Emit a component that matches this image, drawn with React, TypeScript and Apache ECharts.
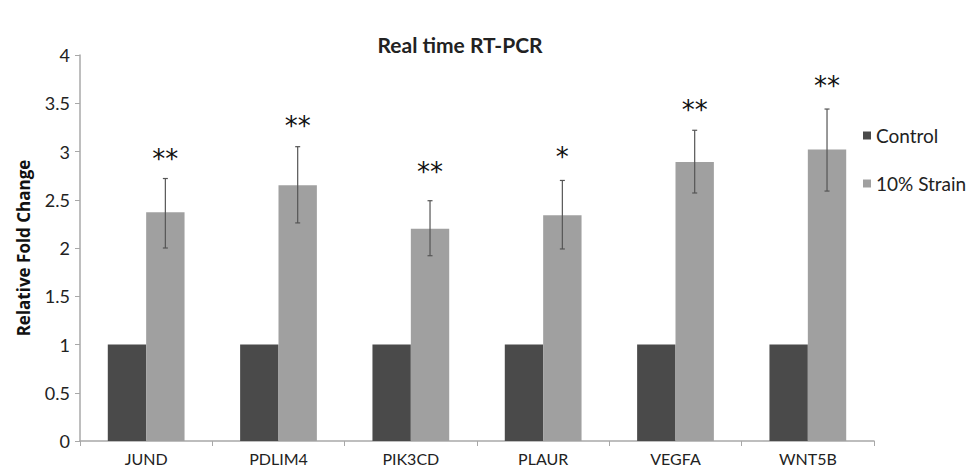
import React, { useEffect, useRef } from "react";
import * as echarts from "echarts";

const categories = ["JUND", "PDLIM4", "PIK3CD", "PLAUR", "VEGFA", "WNT5B"];
const controlValues = [1, 1, 1, 1, 1, 1];
const strainValues = [2.37, 2.65, 2.2, 2.34, 2.89, 3.02];
const strainErrLow = [2.0, 2.26, 1.92, 1.99, 2.57, 2.59];
const strainErrHigh = [2.72, 3.05, 2.49, 2.7, 3.22, 3.44];
const starLabels = ["**", "**", "**", "*", "**", "**"];
const starY = [2.96, 3.31, 2.83, 2.98, 3.47, 3.72];
const yTicks = [0, 0.5, 1, 1.5, 2, 2.5, 3, 3.5, 4];

const FONT = "Lato, 'Open Sans', sans-serif";
const CAT_GAP = 0.42;

export default function App() {
  const ref = useRef<HTMLDivElement>(null);
  useEffect(() => {
    if (!ref.current) return;
    const chart = echarts.init(ref.current, null, { renderer: "svg" });
    const errData = categories.map((_, i) => [i, strainErrLow[i], strainErrHigh[i]]);
    const starData = categories.map((_, i) => [i, starY[i], starLabels[i]]);
    chart.setOption({
      animation: false,
      backgroundColor: "#ffffff",
      title: {
        text: "Real time RT-PCR",
        left: 455,
        top: 29,
        textAlign: "center",
        textStyle: { fontFamily: FONT, fontWeight: "bold", fontSize: 21, color: "#222" },
      },
      legend: {
        orient: "vertical",
        left: 858,
        top: 121,
        itemGap: 29,
        itemWidth: 8,
        itemHeight: 8,
        icon: "rect",
        data: ["Control", "10% Strain"],
        textStyle: { fontFamily: FONT, fontSize: 19, color: "#222" },
      },
      grid: { left: 80, right: 104, top: 55, bottom: 29, containLabel: false },
      xAxis: {
        type: "category",
        data: categories,
        axisLine: { lineStyle: { color: "#a8a8a8", width: 1.5 } },
        axisTick: { show: true, length: 5, lineStyle: { color: "#a8a8a8" } },
        axisLabel: { fontFamily: FONT, fontSize: 16, lineHeight: 17, color: "#222", margin: 9 },
      },
      yAxis: {
        type: "value",
        min: 0,
        max: 4,
        interval: 0.5,
        name: "Relative Fold Change",
        nameLocation: "middle",
        nameGap: 48,
        nameTextStyle: { fontFamily: "'Open Sans', sans-serif", fontWeight: "bold", fontSize: 17, color: "#111" },
        axisLine: { show: true, lineStyle: { color: "#a8a8a8", width: 1.5 } },
        axisTick: { show: true, length: 5, lineStyle: { color: "#a8a8a8" } },
        splitLine: { show: false },
        axisLabel: {
          fontFamily: FONT,
          fontSize: 18,
          color: "#222",
          margin: 10,
          formatter: (v: number) => (yTicks.includes(v) ? String(v) : ""),
        },
      },
      series: [
        {
          name: "Control",
          type: "bar",
          data: controlValues,
          barGap: "0%",
          barCategoryGap: CAT_GAP * 100 + "%",
          itemStyle: { color: "#4a4a4a" },
        },
        {
          name: "10% Strain",
          type: "bar",
          data: strainValues,
          barGap: "0%",
          barCategoryGap: CAT_GAP * 100 + "%",
          itemStyle: { color: "#a0a0a0" },
        },
        {
          type: "custom",
          name: "err",
          data: errData,
          z: 5,
          renderItem: (params: any, api: any) => {
            const i = api.value(0);
            const lo = api.coord([i, api.value(1)]);
            const hi = api.coord([i, api.value(2)]);
            const band = api.size([1, 0])[0];
            const x = lo[0] + (band * (1 - CAT_GAP)) / 4;
            const cap = 2.5;
            const st = { stroke: "#555", lineWidth: 1.2 };
            return {
              type: "group",
              children: [
                { type: "line", shape: { x1: x, y1: lo[1], x2: x, y2: hi[1] }, style: st },
                { type: "line", shape: { x1: x - cap, y1: lo[1], x2: x + cap, y2: lo[1] }, style: st },
                { type: "line", shape: { x1: x - cap, y1: hi[1], x2: x + cap, y2: hi[1] }, style: st },
              ],
            };
          },
        },
        {
          type: "custom",
          name: "stars",
          data: starData,
          z: 6,
          renderItem: (params: any, api: any) => {
            const i = api.value(0);
            const p = api.coord([i, api.value(1)]);
            const band = api.size([1, 0])[0];
            const x = p[0] + (band * (1 - CAT_GAP)) / 4;
            return {
              type: "text",
              style: {
                text: starLabels[i],
                x: x,
                y: p[1] + 4,
                textAlign: "center",
                textVerticalAlign: "middle",
                fontFamily: "'DejaVu Sans', sans-serif",
                fontSize: 26,
                fill: "#111",
              },
            };
          },
        },
      ],
    });
    return () => chart.dispose();
  }, []);
  return <div ref={ref} style={{ width: 978, height: 470, position: "absolute", left: 0, top: 0 }} />;
}
